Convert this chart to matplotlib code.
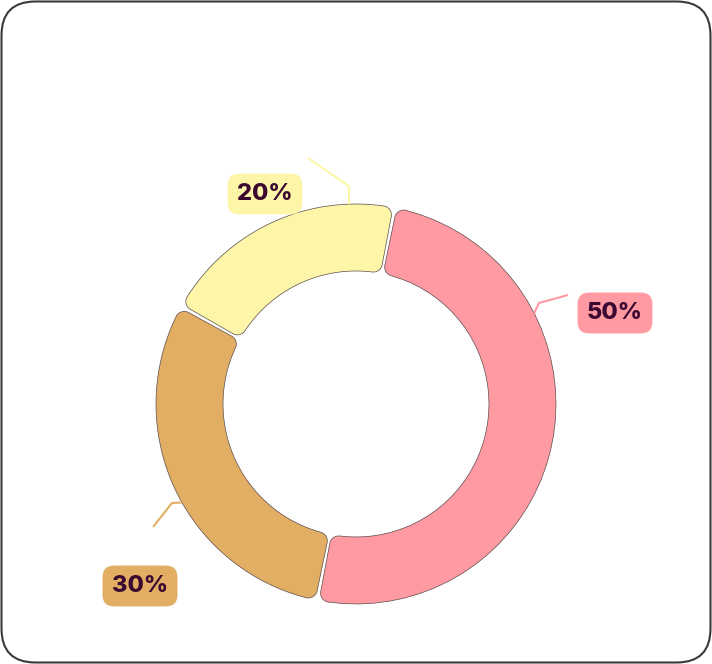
import numpy as np
import matplotlib.pyplot as plt
from matplotlib.path import Path
from matplotlib.patches import PathPatch, FancyBboxPatch

# data
labels = ["50%", "30%", "20%"]
values = [50, 30, 20]
colors = ["#FF9AA2", "#E2AE64", "#FDF6A9"]

# layout (pixel units, y up)
W, H = 712, 664
cx, cy = 356, 260
r_out, r_in = 200, 133
corner = 9
gap = 0.55         # degrees cut from each side of a slice
start = 78.8

# leader lines: anchor angle on rim, elbow, end, label centre
leaders = [
    (27, (539, 361), (568, 369), (615, 351)),
    (209.5, (172, 161), (153, 137), (140, 78)),
    (92, (349, 478), (308, 506), (265, 470)),
]


def arc(c, r, a1, a2, n=40):
    t = np.linspace(a1, a2, n)
    return np.column_stack([c[0] + r * np.cos(t), c[1] + r * np.sin(t)])


def fillet(fc, rc, p1, p2, n=12):
    a1 = np.arctan2(p1[1] - fc[1], p1[0] - fc[0])
    a2 = np.arctan2(p2[1] - fc[1], p2[0] - fc[0])
    d = (a2 - a1 + np.pi) % (2 * np.pi) - np.pi
    return arc(fc, rc, a1, a1 + d, n)


def polar(r, a):
    return np.array([cx + r * np.cos(a), cy + r * np.sin(a)])


def rounded_sector(lo, hi):
    ao = np.arcsin(corner / (r_out - corner))
    ai = np.arcsin(corner / (r_in + corner))
    do = (r_out - corner) * np.cos(ao)
    di = (r_in + corner) * np.cos(ai)
    u = lambda a: np.array([np.cos(a), np.sin(a)])
    c0 = np.array([cx, cy])
    pts = []
    pts.append(arc(c0, r_out, lo + ao, hi - ao))
    pts.append(fillet(polar(r_out - corner, hi - ao), corner,
                      polar(r_out, hi - ao), c0 + do * u(hi)))
    pts.append(fillet(polar(r_in + corner, hi - ai), corner,
                      c0 + di * u(hi), polar(r_in, hi - ai)))
    pts.append(arc(c0, r_in, hi - ai, lo + ai))
    pts.append(fillet(polar(r_in + corner, lo + ai), corner,
                      polar(r_in, lo + ai), c0 + di * u(lo)))
    pts.append(fillet(polar(r_out - corner, lo + ao), corner,
                      c0 + do * u(lo), polar(r_out, lo + ao)))
    v = np.vstack(pts)
    v = np.vstack([v, v[:1]])
    codes = [Path.MOVETO] + [Path.LINETO] * (len(v) - 2) + [Path.CLOSEPOLY]
    return Path(v, codes)


fig = plt.figure(figsize=(W / 100, H / 100), dpi=100)
ax = fig.add_axes([0, 0, 1, 1])
ax.set_xlim(0, W)
ax.set_ylim(0, H)
ax.set_aspect("equal")
ax.axis("off")

# card
ax.add_patch(FancyBboxPatch((1.5, 1.5), W - 3, H - 3,
                            boxstyle="round,pad=0,rounding_size=34",
                            fc="white", ec="#3a3a3a", lw=1.5))

total = sum(values)
a = start
for v, col in zip(values, colors):
    span = 360 * v / total
    hi = np.radians(a - gap)
    lo = np.radians(a - span + gap)
    ax.add_patch(PathPatch(rounded_sector(lo, hi), fc=col,
                           ec="#5a4a4a", lw=0.5))
    a -= span

for lab, col, (ang, elbow, end, pos) in zip(labels, colors, leaders):
    p0 = polar(r_out, np.radians(ang))
    ax.plot([p0[0], elbow[0], end[0]], [p0[1], elbow[1], end[1]],
            color=col, lw=1.5, solid_capstyle="butt")
    ax.text(pos[0], pos[1], lab, ha="center", va="center",
            fontsize=17, fontweight=800, family="Inter",
            color="#3B0830",
            bbox=dict(boxstyle="round,pad=0.4,rounding_size=0.5",
                      fc=col, ec="none"))

fig.savefig("out.png", dpi=100)
